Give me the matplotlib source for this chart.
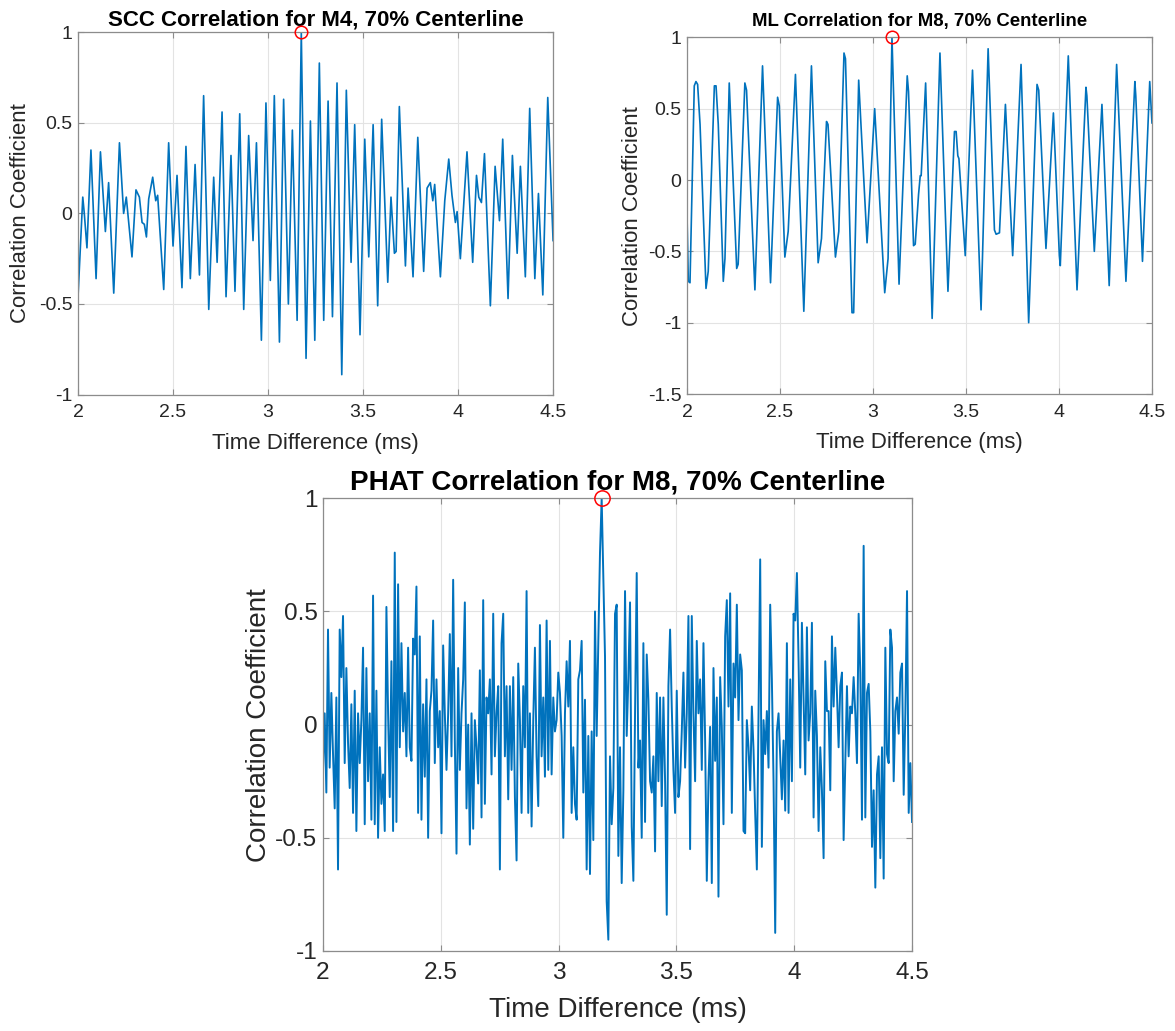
import numpy as np
import matplotlib.pyplot as plt
from matplotlib.ticker import FuncFormatter

plt.rcParams["font.family"] = ["Liberation Sans", "DejaVu Sans"]
plt.rcParams["axes.unicode_minus"] = False

# ── SCC correlation, M4 (time in ms, coefficient) ─────────────────────────────
SCC_T = [2.000, 2.025, 2.033, 2.047, 2.068, 2.095, 2.118, 2.144, 2.161, 2.188,
         2.218, 2.240, 2.254, 2.284, 2.305, 2.323, 2.337, 2.349, 2.360, 2.372,
         2.393, 2.409, 2.419, 2.451, 2.477, 2.500, 2.521, 2.547, 2.568, 2.591,
         2.616, 2.639, 2.661, 2.688, 2.714, 2.732, 2.758, 2.779, 2.805, 2.826,
         2.851, 2.872, 2.898, 2.921, 2.939, 2.965, 2.989, 3.012, 3.033, 3.060,
         3.082, 3.107, 3.128, 3.153, 3.175,
         3.200, 3.223, 3.246, 3.270, 3.293, 3.316, 3.339, 3.363, 3.388, 3.412,
         3.437, 3.456, 3.484, 3.509, 3.530, 3.553, 3.577, 3.598, 3.630, 3.647,
         3.665, 3.674, 3.691, 3.723, 3.737, 3.763, 3.788, 3.819, 3.837, 3.854,
         3.867, 3.877, 3.907, 3.930, 3.951, 3.968, 3.986, 3.995, 4.012, 4.047,
         4.077, 4.097, 4.109, 4.123, 4.139, 4.170, 4.195, 4.218, 4.235, 4.263,
         4.286, 4.311, 4.328, 4.354, 4.377, 4.404, 4.423, 4.446, 4.472, 4.500]
SCC_R = [-0.46, 0.09, 0.00, -0.19, 0.35, -0.36, 0.34, -0.10, 0.17, -0.44,
         0.39, 0.00, 0.09, -0.24, 0.13, 0.09, -0.05, -0.06, -0.13, 0.08,
         0.20, 0.07, 0.10, -0.42, 0.39, -0.18, 0.21, -0.41, 0.37, -0.36,
         0.27, -0.34, 0.65, -0.53, 0.20, -0.27, 0.56, -0.46, 0.32, -0.43,
         0.55, -0.53, 0.43, -0.15, 0.39, -0.70, 0.61, -0.37, 0.65, -0.71,
         0.63, -0.50, 0.46, -0.59, 1.00,
         -0.80, 0.51, -0.70, 0.83, -0.59, 0.62, -0.57, 0.72, -0.89, 0.68,
         -0.27, 0.49, -0.67, 0.41, -0.24, 0.49, -0.51, 0.52, -0.38, 0.09,
         -0.22, -0.21, 0.59, -0.29, 0.14, -0.35, 0.42, -0.32, 0.14, 0.17,
         0.07, 0.16, -0.35, 0.07, 0.30, 0.10, -0.05, 0.01, -0.25, 0.34,
         -0.27, 0.21, 0.09, 0.06, 0.33, -0.51, 0.26, -0.04, 0.41, -0.47,
         0.32, -0.22, 0.26, -0.35, 0.58, -0.36, 0.11, -0.45, 0.64, -0.15]

# ── ML correlation, M8 ────────────────────────────────────────────────────────
ML_T = [2.000, 2.007, 2.016, 2.039, 2.048, 2.057, 2.070, 2.102, 2.114, 2.147,
        2.156, 2.168, 2.195, 2.204, 2.227, 2.267, 2.275, 2.311, 2.320, 2.365,
        2.406, 2.449, 2.487, 2.496, 2.526, 2.544, 2.583, 2.628, 2.669, 2.705,
        2.723, 2.750, 2.758, 2.798, 2.816, 2.844, 2.852, 2.887, 2.896, 2.923,
        2.968, 3.009, 3.063, 3.081, 3.102, 3.140, 3.184, 3.191, 3.218, 3.227,
        3.245, 3.254, 3.259, 3.283, 3.318, 3.360, 3.403, 3.438, 3.447, 3.456,
        3.462, 3.496, 3.535, 3.581, 3.619, 3.653, 3.662, 3.680, 3.712, 3.751,
        3.796, 3.837, 3.882, 3.891, 3.930, 3.970, 4.002, 4.007, 4.050, 4.097,
        4.145, 4.150, 4.190, 4.231, 4.270, 4.310, 4.360, 4.408, 4.413, 4.449,
        4.488, 4.500]
ML_R = [-0.25, -0.71, -0.72, 0.66, 0.69, 0.67, 0.39, -0.76, -0.64, 0.66,
        0.66, 0.39, -0.71, -0.55, 0.68, -0.62, -0.59, 0.68, 0.63, -0.77,
        0.80, -0.72, 0.58, 0.52, -0.54, -0.36, 0.74, -0.92, 0.80, -0.58,
        -0.41, 0.41, 0.39, -0.54, -0.36, 0.89, 0.85, -0.93, -0.93, 0.70,
        -0.44, 0.50, -0.79, -0.55, 1.00, -0.73, 0.73, 0.62, -0.46, -0.45,
        -0.10, 0.03, 0.03, 0.68, -0.97, 0.89, -0.78, 0.34, 0.34, 0.17,
        0.15, -0.53, 0.77, -0.91, 0.92, -0.35, -0.38, -0.37, 0.53, -0.53,
        0.81, -1.00, 0.67, 0.63, -0.48, 0.47, -0.53, -0.60, 0.87, -0.77,
        0.65, 0.59, -0.50, 0.53, -0.74, 0.81, -0.71, 0.69, 0.59, -0.57,
        0.69, 0.40]

# ── PHAT correlation, M8 (uniformly sampled lags from 2 to 4.5 ms) ────────────
PHAT_R = [
    -0.20, 0.05, -0.30, 0.42, -0.19, 0.14, -0.13, -0.37, 0.12, -0.64,
    0.42, 0.21, 0.48, -0.17, 0.25, -0.08, -0.28, 0.09, -0.39, 0.15,
    -0.47, 0.05, -0.17, 0.02, 0.34, -0.44, 0.25, -0.25, 0.05, -0.42,
    0.57, -0.44, 0.15, -0.50, -0.10, -0.35, -0.22, -0.47, 0.52, 0.05,
    -0.32, 0.28, -0.47, 0.76, -0.43, 0.62, -0.10, 0.36, -0.03, 0.14,
    -0.14, 0.34, -0.10, -0.16, 0.38, 0.31, 0.61, -0.39, 0.39, -0.42,
    0.09, -0.23, 0.20, -0.50, 0.06, 0.15, 0.46, -0.17, 0.20, -0.10,
    0.06, -0.48, 0.35, 0.05, -0.20, 0.05, 0.40, -0.14, 0.64, -0.07,
    -0.57, 0.25, -0.20, 0.05, 0.20, 0.54, -0.37, 0.00, -0.53, 0.05,
    -0.46, 0.02, -0.10, -0.26, 0.24, -0.41, 0.55, -0.35, 0.12, 0.05,
    0.20, -0.22, 0.49, -0.14, 0.05, 0.17, -0.64, 0.36, 0.49, -0.14,
    0.17, -0.33, 0.17, -0.20, 0.21, -0.32, -0.60, 0.27, 0.02,
    -0.39, 0.17, -0.10, 0.59, -0.39, 0.05, -0.45, 0.02, 0.34, -0.14,
    -0.36, 0.44, -0.14, 0.12, -0.23, 0.46, -0.20, 0.37, -0.22, 0.12,
    -0.03, 0.02, 0.23, 0.14, -0.05, -0.50, 0.05, 0.28, 0.08, 0.37,
    -0.39, -0.10, -0.35, -0.42, 0.20, 0.24, 0.37, -0.30, 0.11, -0.64,
    -0.05, -0.66, -0.03, -0.51, 0.50, -0.05, 0.37, 0.76, 1.00, 0.64,
    0.30, -0.78, -0.95, -0.14, -0.44, -0.28, 0.49, 0.53, -0.58, -0.10,
    -0.70, -0.29, 0.59, -0.05, 0.21, 0.54, -0.45, -0.69, 0.05, 0.67,
    -0.19, -0.07, -0.50, 0.36, -0.43, 0.31, 0.11, -0.25, -0.30, -0.14,
    -0.56, 0.14, -0.25, 0.12, -0.36, 0.12, -0.25, -0.84, 0.17, 0.42,
    0.08, -0.20, -0.39, 0.15, -0.32, -0.25, -0.03, 0.23, -0.19, 0.05,
    0.48, -0.55, 0.48, 0.05, -0.25, 0.37, 0.05, 0.20, -0.20, 0.36,
    -0.07, -0.69, -0.25, -0.01,
    -0.70, 0.25, -0.16, 0.12, -0.76, 0.21, -0.01, -0.44, 0.39, 0.55,
    0.08, 0.58, -0.39, 0.27, 0.12, 0.53, 0.02, 0.31, 0.24, -0.47,
    -0.48, 0.02, -0.10, -0.29, 0.08, -0.11, -0.39, -0.64, 0.05, 0.73,
    -0.54, 0.02, -0.13, 0.06, -0.19, 0.53, 0.20, -0.25, -0.92, -0.03,
    0.05, -0.14, -0.33, -0.07, -0.38, 0.36, -0.39, 0.20, -0.25, 0.49,
    0.46, 0.67, 0.28, -0.19, 0.45, 0.12, -0.22, 0.43, -0.07, 0.05,
    0.45, -0.41, 0.15, -0.05, -0.47, -0.10, -0.29, -0.59, 0.28, 0.06,
    0.06, -0.29, 0.39, 0.08, 0.34, 0.14, -0.10, 0.17, 0.23, -0.51,
    -0.17, 0.17, -0.14, 0.08, 0.05, 0.21, 0.05, -0.17, 0.49, 0.23,
    -0.42, 0.79, -0.41, 0.14, 0.18, -0.03, -0.54, -0.29, -0.72, -0.22,
    -0.14, -0.59, -0.10, -0.68, 0.34, -0.13, -0.17, 0.42, 0.34, -0.25,
    0.06, 0.12, -0.04, 0.23, 0.27, -0.31, 0.05, 0.59, -0.39, -0.17, -0.43]
PHAT_T = np.linspace(2.0, 4.5, len(PHAT_R))

XTICKS = [2, 2.5, 3, 3.5, 4, 4.5]
BLUE = "#0072BD"
GRID = "#e3e3e3"
SPINE = "#8c8c8c"
TXT = "#262626"

fig = plt.figure(figsize=(11.75, 10.31), dpi=100)
ax1 = fig.add_axes([0.0664, 0.6173, 0.4043, 0.3514])
ax2 = fig.add_axes([0.5847, 0.6178, 0.3957, 0.3460])
ax3 = fig.add_axes([0.2749, 0.0776, 0.5013, 0.4391])

fmt = FuncFormatter(lambda v, p: f"{v:g}")


def style(ax, ylim, yticks, fs_tick, fs_lab, xpad, lab_x, lab_y):
    ax.set_xlim(2, 4.5)
    ax.set_ylim(*ylim)
    ax.set_xticks(XTICKS)
    ax.set_yticks(yticks)
    ax.xaxis.set_major_formatter(fmt)
    ax.yaxis.set_major_formatter(fmt)
    ax.grid(True, color=GRID, linewidth=0.8)
    ax.set_axisbelow(True)
    ax.tick_params(direction="in", length=4, width=0.8, color=SPINE,
                   labelsize=fs_tick, labelcolor=TXT,
                   top=True, right=True, pad=4)
    ax.tick_params(axis="x", pad=xpad)
    for s in ax.spines.values():
        s.set_color(SPINE)
        s.set_linewidth(0.9)
    ax.set_xlabel("Time Difference (ms)", fontsize=fs_lab, color=TXT)
    ax.set_ylabel("Correlation Coefficient", fontsize=fs_lab, color=TXT)
    ax.xaxis.set_label_coords(0.5, lab_x)
    ax.yaxis.set_label_coords(lab_y, 0.5)


def mark_peak(ax, t, r, ms):
    i = int(np.argmax(r))
    ax.plot(t[i], r[i], "o", mfc="none", mec="red", ms=ms, mew=1.1,
            clip_on=False, zorder=5)


ax1.plot(SCC_T, SCC_R, color=BLUE, lw=1.2)
mark_peak(ax1, SCC_T, SCC_R, 9)
style(ax1, (-1, 1), [-1, -0.5, 0, 0.5, 1], 14, 16, 7, -0.107, -0.099)
ax1.set_title("SCC Correlation for M4, 70% Centerline", fontsize=16,
              fontweight="bold", pad=5)

ax2.plot(ML_T, ML_R, color=BLUE, lw=1.2)
mark_peak(ax2, ML_T, ML_R, 9)
style(ax2, (-1.5, 1), [-1.5, -1, -0.5, 0, 0.5, 1], 14, 16, 7, -0.107, -0.095)
ax2.set_title("ML Correlation for M8, 70% Centerline", fontsize=13.4,
              fontweight="bold", pad=8)

ax3.plot(PHAT_T, PHAT_R, color=BLUE, lw=1.4)
mark_peak(ax3, PHAT_T, PHAT_R, 11)
style(ax3, (-1, 1), [-1, -0.5, 0, 0.5, 1], 17.6, 20, 8, -0.102, -0.087)
ax3.set_title("PHAT Correlation for M8, 70% Centerline", fontsize=20,
              fontweight="bold", pad=6)

fig.savefig("out.png", dpi=100)
